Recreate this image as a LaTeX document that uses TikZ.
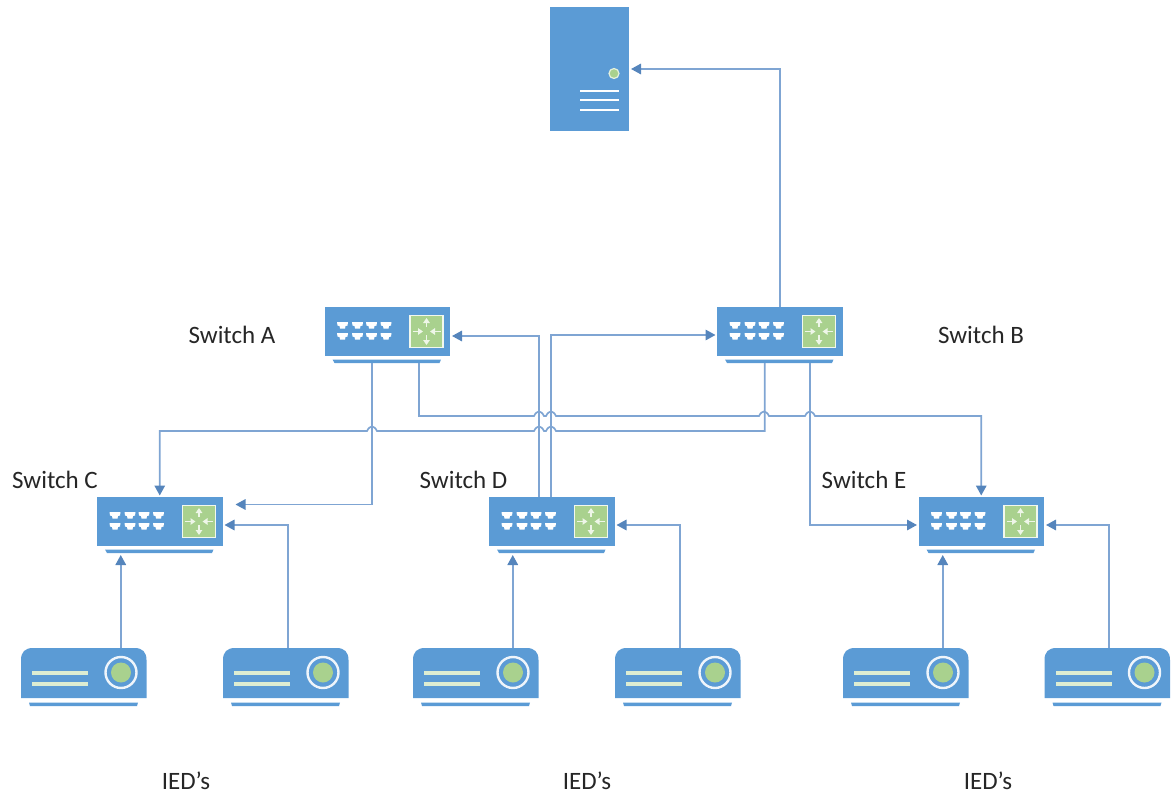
\documentclass[tikz,border=0pt]{standalone}
\usepackage{fontspec}
\setmainfont{Carlito}
\usetikzlibrary{arrows.meta,calc}
\definecolor{bl}{HTML}{5B9BD5}
\definecolor{gr}{HTML}{A9D18E}
\definecolor{ln}{HTML}{7FA5D3}
\definecolor{tip}{HTML}{5585BC}
\tikzset{
  swbody/.style={fill=bl,draw=none,inner sep=0pt,outer sep=0pt,minimum width=125.5pt,minimum height=49pt},
  iedbody/.style={inner sep=0pt,outer sep=0pt,minimum width=125.5pt,minimum height=50pt},
  srvbody/.style={fill=bl,draw=none,inner sep=0pt,outer sep=0pt,minimum width=79pt,minimum height=124pt},
  conn/.style={draw=ln,line width=1.7pt,shorten >=1.5pt,-{Triangle[length=10pt,width=10.5pt,color=tip]}},
  lab/.style={font=\fontsize{25pt}{28pt}\selectfont,text=black!85,inner sep=0pt},
  wline/.style={white,line width=2.5pt},
  ww/.style={white!80!gr,line width=1.6pt,-{Triangle[length=5pt,width=6.5pt]}}
}
\newcommand{\hopover}[3]{-- (#1,#3) .. controls ($(#1,#3)!0.3!(#2,#3)+(0,-6)$) and ($(#2,#3)!0.3!(#1,#3)+(0,-6)$) .. (#2,#3)}
\newcommand{\swtch}[3]{% name, left, top
  \node[swbody,anchor=north west] (#1) at (#2,#3) {};
  \begin{scope}[shift={(#2,#3)}]
    \fill[bl] (8,52.5) -- (116.5,52.5) -- (115,56) -- (10,56) -- cycle;
    \foreach \cx in {18,33,47,61.5}{
      \foreach \cy in {15,26}{
        \fill[white] (\cx-5.5,\cy) -- (\cx+5.5,\cy) -- (\cx+5,\cy+3.5) -- (\cx+3,\cy+4) -- (\cx+2.5,\cy+6.5) -- (\cx-2.5,\cy+6.5) -- (\cx-3,\cy+4) -- (\cx-5,\cy+3.5) -- cycle;
      }
    }
    \fill[gr,draw=white!85!gr,line width=1.2pt] (85.5,8.5) rectangle (118.5,40.5);
    \draw[ww] (102,20) -- (102,11);
    \draw[ww] (102,28) -- (102,38);
    \draw[ww] (88,24.5) -- (98.5,24.5);
    \draw[ww] (116,24.5) -- (105.5,24.5);
  \end{scope}
}
\newcommand{\ied}[3]{% name, left, top
  \node[iedbody,anchor=north west] (#1) at (#2,#3) {};
  \begin{scope}[shift={(#2,#3)}]
    \fill[bl] (0,50) -- (0,12) .. controls (0,4) and (4,0) .. (12,0) -- (113.5,0) .. controls (121.5,0) and (125.5,4) .. (125.5,12) -- (125.5,50) -- cycle;
    \fill[bl] (8,54.5) -- (117,54.5) -- (116,58) -- (9,58) -- cycle;
    \fill[white!60!gr] (11,22.5) rectangle (67,26.5);
    \fill[white!60!gr] (11,33.5) rectangle (67,37.5);
    \draw[white!90!bl,line width=2.4pt] (100,24.5) circle[radius=15.5];
    \fill[gr] (100,24.5) circle[radius=10];
  \end{scope}
}
\begin{document}
\begin{tikzpicture}[x=1pt,y=-1pt]
\useasboundingbox (0,0) rectangle (1171,795);
% server
\node[srvbody,anchor=north west] (srv) at (550,7) {};
\fill[gr,draw=white!70!gr,line width=1.2pt] (614,73.5) circle[radius=5];
\foreach \yy in {91,100,110} \draw[wline] (580,\yy) -- (619,\yy);
% switches
\swtch{swA}{324.5}{307}
\swtch{swB}{717}{307}
\swtch{swC}{97}{497}
\swtch{swD}{489}{497}
\swtch{swE}{918.5}{497}
% IEDs
\ied{iedCa}{21}{648}
\ied{iedCb}{223}{648}
\ied{iedDa}{413}{648}
\ied{iedDb}{615}{648}
\ied{iedEa}{843}{648}
\ied{iedEb}{1044.5}{648}
% routing levels
\coordinate (busA) at (0,416);
\coordinate (busB) at (0,431);
\coordinate (aE) at ([xshift=31.75pt,yshift=-7pt]swA.south);
\coordinate (bC) at ([xshift=-15pt,yshift=-7pt]swB.south);
% connectors
\draw[conn] (swB.north) |- ([xshift=0.5pt]srv.east);
\draw[conn] ([xshift=-12.5pt]swD.north) |- ([xshift=0.5pt,yshift=-4.5pt]swA.east);
\draw[conn] ([xshift=-0.5pt]swD.north) |- ([yshift=-3.5pt]swB.west);
\draw[conn] (aE) -- (aE |- busA)
  \hopover{534}{544}{416} \hopover{546}{556}{416} \hopover{759}{769}{416} \hopover{805}{815}{416}
  -- (swE.north |- busA) -- (swE.north);
\draw[conn] (bC) -- (bC |- busB)
  \hopover{556}{546}{431} \hopover{544}{534}{431} \hopover{377}{367}{431}
  -- (swC.north |- busB) -- (swC.north);
\draw[conn] ([xshift=-15.25pt,yshift=-7pt]swA.south) |- ([xshift=11.5pt,yshift=17pt]swC.east);
\draw[conn] ([xshift=30.5pt,yshift=-7pt]swB.south) |- ([yshift=-3.5pt]swE.west);
% IEDs to switches
\foreach \ia/\ib/\sw in {iedCa/iedCb/swC,iedDa/iedDb/swD,iedEa/iedEb/swE}{
  \coordinate (up) at ([xshift=37pt]\ia.north);
  \coordinate (dn) at ([yshift=-7.5pt]\sw.south);
  \draw[conn] (up) -- (up |- dn);
  \draw[conn] ([xshift=2pt]\ib.north) |- ([xshift=0.5pt,yshift=-3.5pt]\sw.east);
}
% labels
\node[lab] (lA) at (232,335) {Switch A};
\node[lab] (lB) at (981,335) {Switch B};
\node[lab] (lC) at (55,480) {Switch C};
\node[lab] (lD) at (463.5,480) {Switch D};
\node[lab] (lE) at (864,480) {Switch E};
\node[lab] (i1) at (186,780.5) {IED’s};
\node[lab] (i2) at (587,780.5) {IED’s};
\node[lab] (i3) at (988,780.5) {IED’s};
\end{tikzpicture}
\end{document}
